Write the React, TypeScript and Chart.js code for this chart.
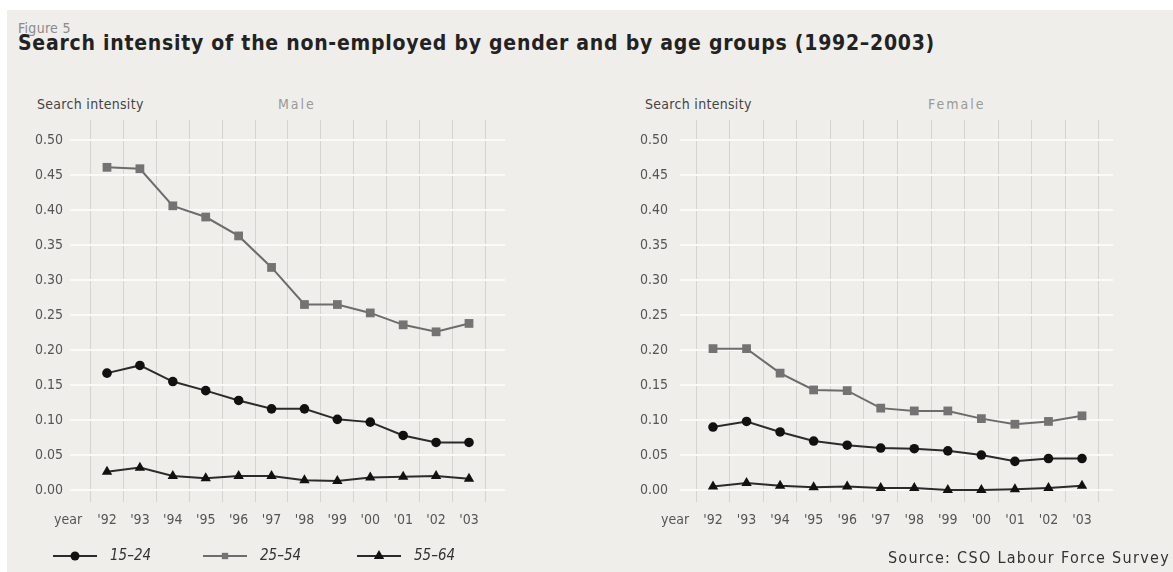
import React, { useEffect, useRef } from 'react';
import { Chart, registerables } from 'chart.js';

Chart.register(...registerables);

// ---------- data ----------
const years = [1992, 1993, 1994, 1995, 1996, 1997, 1998, 1999, 2000, 2001, 2002, 2003];
const yearLabels = ["'92", "'93", "'94", "'95", "'96", "'97", "'98", "'99", "'00", "'01", "'02", "'03"];
const xLeadLabel = 'year';
const seriesNames = ['15–24', '25–54', '55–64'];
const yTicks = [0, 0.05, 0.1, 0.15, 0.2, 0.25, 0.3, 0.35, 0.4, 0.45, 0.5];

const male1524 = [0.167, 0.178, 0.155, 0.142, 0.128, 0.116, 0.116, 0.101, 0.097, 0.078, 0.068, 0.068];
const male2554 = [0.461, 0.459, 0.406, 0.390, 0.363, 0.318, 0.265, 0.265, 0.253, 0.236, 0.226, 0.238];
const male5564 = [0.026, 0.032, 0.020, 0.017, 0.020, 0.020, 0.014, 0.013, 0.018, 0.019, 0.020, 0.016];

const female1524 = [0.090, 0.098, 0.083, 0.070, 0.064, 0.060, 0.059, 0.056, 0.050, 0.041, 0.045, 0.045];
const female2554 = [0.202, 0.202, 0.167, 0.143, 0.142, 0.117, 0.113, 0.113, 0.102, 0.094, 0.098, 0.106];
const female5564 = [0.005, 0.010, 0.006, 0.004, 0.005, 0.003, 0.003, 0.000, 0.000, 0.001, 0.003, 0.006];

const titleText = 'Search intensity of the non-employed by gender and by age groups (1992–2003)';
const figureText = 'Figure 5';
const yAxisTitle = 'Search intensity';
const maleTitle = 'Male';
const femaleTitle = 'Female';
const sourceText = 'Source: CSO Labour Force Survey';

// ---------- styles ----------
const FONT = '"DejaVu Sans Condensed", "DejaVu Sans", sans-serif';
const BG = '#f0eeeb';
const seriesStyles = [
  { line: '#2b2b2b', fill: '#111111', pointStyle: 'circle', radius: 4.8, legendRadius: 4.5 },
  { line: '#6c6c6c', fill: '#737373', pointStyle: 'rect', radius: 6.2, legendRadius: 4.5 },
  { line: '#2b2b2b', fill: '#111111', pointStyle: 'triangle', radius: 6, legendRadius: 6 },
];

function buildDatasets(values: number[][]) {
  return values.map((vals, i) => ({
    label: seriesNames[i],
    data: years.map((yr, j) => ({ x: yr, y: vals[j] })),
    borderColor: seriesStyles[i].line,
    backgroundColor: seriesStyles[i].fill,
    pointBackgroundColor: seriesStyles[i].fill,
    pointBorderColor: seriesStyles[i].fill,
    pointBorderWidth: 0,
    pointStyle: seriesStyles[i].pointStyle,
    pointRadius: seriesStyles[i].radius,
    borderWidth: 2,
    tension: 0,
    order: 2 - i,
  }));
}

const legendPlugin = {
  id: 'bottomLegend',
  afterDraw(chart: any) {
    const ctx = chart.ctx;
    const y = 446;
    const starts = [46, 196, 350];
    ctx.save();
    chart.data.datasets.forEach((ds: any, i: number) => {
      const st = seriesStyles[i];
      const x0 = starts[i];
      ctx.strokeStyle = st.line;
      ctx.lineWidth = 2;
      ctx.beginPath();
      ctx.moveTo(x0, y);
      ctx.lineTo(x0 + 44, y);
      ctx.stroke();
      const cx = x0 + 22;
      const r = st.legendRadius;
      ctx.fillStyle = st.fill;
      ctx.beginPath();
      if (st.pointStyle === 'circle') {
        ctx.arc(cx, y, r, 0, Math.PI * 2);
      } else if (st.pointStyle === 'rect') {
        const h = r * Math.SQRT1_2;
        ctx.rect(cx - h, y - h, 2 * h, 2 * h);
      } else {
        const h = r * 0.866;
        ctx.moveTo(cx, y - r);
        ctx.lineTo(cx + h, y + r * 0.5);
        ctx.lineTo(cx - h, y + r * 0.5);
        ctx.closePath();
      }
      ctx.fill();
      ctx.fillStyle = '#333';
      ctx.font = `italic 15px ${FONT}`;
      ctx.textBaseline = 'middle';
      ctx.textAlign = 'left';
      ctx.fillText(ds.label, x0 + 57, y);
    });
    ctx.restore();
  },
};

function makeConfig(values: number[][], g: any, withLegend: boolean) {
  const tickFont = { family: FONT, size: 14 };
  return {
    type: 'line',
    data: { datasets: buildDatasets(values) },
    plugins: withLegend ? [legendPlugin] : [],
    options: {
      responsive: false,
      animation: false,
      events: [],
      layout: { padding: { left: 0, right: g.padRight, top: 10, bottom: 40 } },
      plugins: { legend: { display: false }, tooltip: { enabled: false }, title: { display: false } },
      scales: {
        y: {
          type: 'linear',
          position: 'left',
          min: -0.0171,
          max: 0.5286,
          afterBuildTicks: (s: any) => { s.ticks = yTicks.map((v) => ({ value: v })); },
          afterFit: (s: any) => {
            s.width = g.yWidth;
            s.paddingTop = 0;
            s.paddingBottom = 0;
          },
          ticks: {
            padding: g.yPad,
            color: '#555',
            font: tickFont,
            callback: (v: number) => Number(v).toFixed(2),
          },
          grid: { color: '#fbfaf8', lineWidth: 2, drawTicks: false, z: -1 },
          border: { display: false },
        },
        x: {
          type: 'linear',
          position: 'bottom',
          min: g.xMin,
          max: g.xMax,
          afterBuildTicks: (s: any) => {
            s.ticks = [{ value: g.leadPos }].concat(years.map((v) => ({ value: v })));
          },
          afterFit: (s: any) => {
            s.height = 30;
            s.paddingLeft = 0;
            s.paddingRight = 0;
          },
          ticks: {
            autoSkip: false,
            maxRotation: 0,
            padding: 10,
            color: '#555',
            font: tickFont,
            callback: (v: number) => {
              const i = years.indexOf(v);
              return i >= 0 ? yearLabels[i] : xLeadLabel;
            },
          },
          grid: { display: false, drawTicks: false },
          border: { display: false },
        },
        xg: {
          type: 'linear',
          position: 'bottom',
          min: g.xMin,
          max: g.xMax,
          afterBuildTicks: (s: any) => {
            const pos = years.map((v) => v - 0.5).concat([years[years.length - 1] + 0.5]);
            s.ticks = pos.map((v) => ({ value: v }));
          },
          afterFit: (s: any) => {
            s.height = 0;
            s.paddingLeft = 0;
            s.paddingRight = 0;
          },
          ticks: { display: false },
          grid: { color: '#d6d4d0', lineWidth: 1, drawTicks: false, z: -2 },
          border: { display: false },
        },
      },
    },
  };
}

function ChartCanvas({ values, g, withLegend, style }: any) {
  const ref = useRef<HTMLCanvasElement>(null);
  useEffect(() => {
    if (!ref.current) return;
    const chart = new Chart(ref.current, makeConfig(values, g, withLegend) as any);
    return () => chart.destroy();
  }, []);
  return <canvas ref={ref} width={g.w} height={g.h} style={{ position: 'absolute', ...style }} />;
}

const maleGeom = { w: 583, h: 462, yWidth: 63, yPad: 7, padRight: 85, xMin: 1990.876, xMax: 2004.094, leadPos: 1990.82 };
const femaleGeom = { w: 573, h: 462, yWidth: 80, yPad: 12, padRight: 60, xMin: 1991.016, xMax: 2003.924, leadPos: 1990.87 };

export default function App() {
  const txt = (extra: any) => ({ position: 'absolute' as const, fontFamily: FONT, whiteSpace: 'nowrap' as const, margin: 0, ...extra });
  return (
    <div style={{ position: 'absolute', left: 7, top: 10, width: 1166, height: 562, background: BG, overflow: 'hidden' }}>
      <div style={txt({ left: 11, top: 11, fontSize: 14, lineHeight: '14px', letterSpacing: '0.3px', color: '#8a8a8a' })}>{figureText}</div>
      <div style={txt({ left: 11, top: 20, fontSize: 21, lineHeight: '26px', letterSpacing: '0.75px', fontWeight: 'bold', color: '#222' })}>{titleText}</div>
      <div style={txt({ left: 30, top: 86, fontSize: 14, lineHeight: '16px', letterSpacing: '0.3px', color: '#444' })}>{yAxisTitle}</div>
      <div style={txt({ left: 271, top: 86, fontSize: 14, lineHeight: '16px', letterSpacing: '2px', color: '#999' })}>{maleTitle}</div>
      <div style={txt({ left: 638, top: 86, fontSize: 14, lineHeight: '16px', letterSpacing: '0.3px', color: '#444' })}>{yAxisTitle}</div>
      <div style={txt({ left: 921, top: 86, fontSize: 14, lineHeight: '16px', letterSpacing: '2px', color: '#999' })}>{femaleTitle}</div>
      <ChartCanvas values={[male1524, male2554, male5564]} g={maleGeom} withLegend={true} style={{ left: 0, top: 100 }} />
      <ChartCanvas values={[female1524, female2554, female5564]} g={femaleGeom} withLegend={false} style={{ left: 593, top: 100 }} />
      <div style={txt({ right: 3, top: 539, fontSize: 16, lineHeight: '18px', letterSpacing: '1.3px', color: '#333' })}>{sourceText}</div>
    </div>
  );
}
